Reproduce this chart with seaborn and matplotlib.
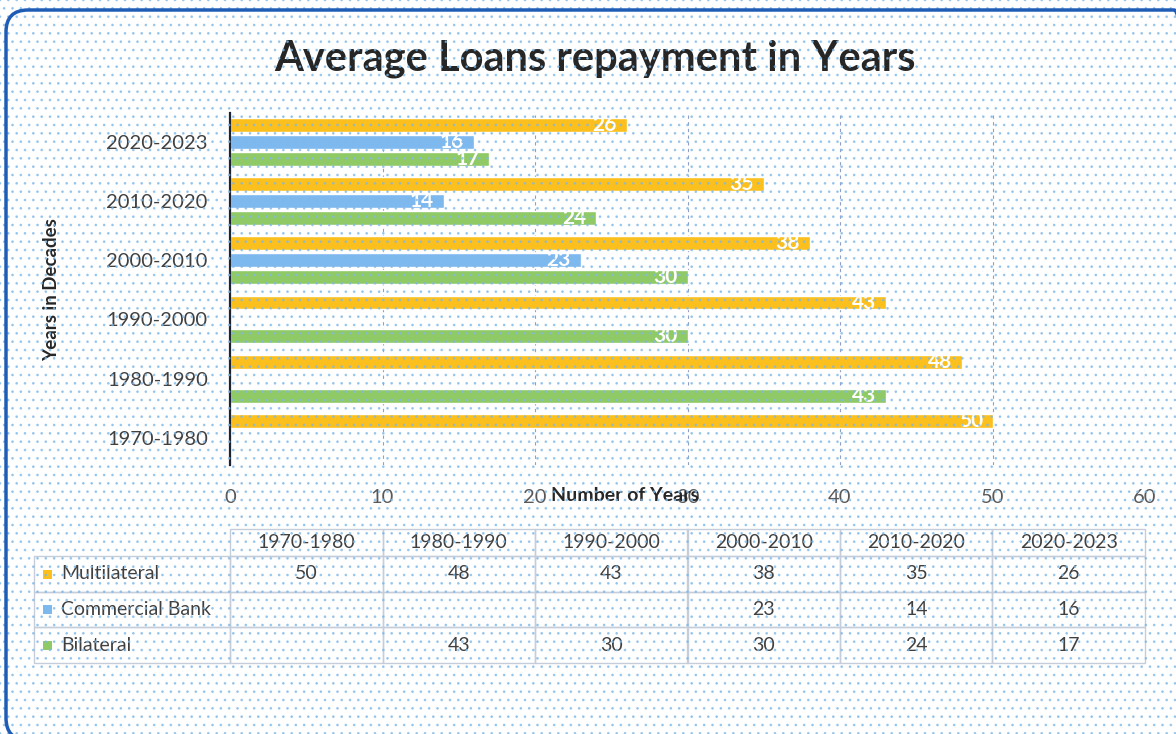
import numpy as np
import pandas as pd
import seaborn as sns
import matplotlib.pyplot as plt
from matplotlib.patches import Rectangle, FancyBboxPatch
from matplotlib.transforms import IdentityTransform

# ---- data -------------------------------------------------------------
decades = ['1970-1980', '1980-1990', '1990-2000', '2000-2010', '2010-2020', '2020-2023']
series = ['Multilateral', 'Commercial Bank', 'Bilateral']
multilateral = [50, 48, 43, 38, 35, 26]
commercial_bank = [np.nan, np.nan, np.nan, 23, 14, 16]
bilateral = [np.nan, 43, 30, 30, 24, 17]
colors = ['#FBBF1E', '#7DB8EE', '#8FCA66']

values = [multilateral, commercial_bank, bilateral]
df = pd.DataFrame({
    'Decade': decades * len(series),
    'Lender': np.repeat(series, len(decades)),
    'Years': multilateral + commercial_bank + bilateral,
})

# ---- style ------------------------------------------------------------
sns.set_style('white')
plt.rcParams['font.family'] = ['Lato', 'DejaVu Sans']
plt.rcParams['hatch.linewidth'] = 0.7
dot_color = '#7FB8E6'
plt.rcParams['hatch.color'] = dot_color

W, H = 1176, 734
fig = plt.figure(figsize=(W / 100, H / 100), dpi=100, facecolor='white')
ax = fig.add_axes([230 / W, 269 / H, 915 / W, 352 / H])
ax.set_facecolor('none')

sns.barplot(data=df, y='Decade', x='Years', hue='Lender',
            order=decades[::-1], hue_order=series, palette=colors,
            orient='h', width=0.86, gap=0.18, saturation=1,
            errorbar=None, legend=False, ax=ax)

# value labels inside the bar ends
for container in ax.containers:
    for bar in container:
        w = bar.get_width()
        if not np.isfinite(w) or w <= 0:
            continue
        ax.annotate(f'{w:g}', xy=(w, bar.get_y() + bar.get_height() / 2),
                    xytext=(-7, 0), textcoords='offset points',
                    ha='right', va='center', color='white',
                    fontsize=15, fontweight='bold')

ax.set_xlim(0, 60)
ax.set_ylim(5.46, -0.49)
ax.set_xticks(range(0, 61, 10))
ax.grid(axis='x', color='#8FA0C6', lw=0.8, ls=(0, (3, 3)))
ax.grid(axis='y', visible=False)
ax.set_axisbelow(True)
for s in ['top', 'right', 'bottom']:
    ax.spines[s].set_visible(False)
ax.spines['left'].set_color('#1C2333')
ax.spines['left'].set_linewidth(1.6)

ax.tick_params(axis='x', length=0, pad=17, labelsize=14.5, labelcolor='#595959')
ax.tick_params(axis='y', length=0, pad=16, labelsize=14.5, labelcolor='#404040')

ax.set_xlabel('Number of Years', fontweight='bold', fontsize=14, color='#262626')
ax.xaxis.set_label_coords((625 - 230) / 915, -(487 - 465) / 352)
ax.set_ylabel('Years in Decades', fontweight='bold', fontsize=13.5, color='#262626')
ax.yaxis.set_label_coords(-0.186, 0.497)

# ---- data table under the chart --------------------------------------
cell_text = [[name] + ['' if np.isnan(v) else f'{v:g}' for v in vals]
             for name, vals in zip(series, values)]
tbl = ax.table(cellText=cell_text, colLabels=[''] + decades,
               colWidths=[196 / 915] + [152.5 / 915] * len(decades),
               cellLoc='center',
               bbox=[(34 - 230) / 915, (465 - 663) / 352,
                     (1145 - 34) / 915, (663 - 529) / 352])
tbl.auto_set_font_size(False)
tbl.set_fontsize(14)
for (r, c), cell in tbl.get_celld().items():
    cell.set_edgecolor('#C5CCDA')
    cell.set_facecolor('none')
    cell.set_linewidth(1)
    cell.get_text().set_color('#404040')
    cell.set_height(27 / 352 if r == 0 else 35.7 / 352)
    if c == 0:
        cell.get_text().set_horizontalalignment('left')
        cell.PAD = 0.14
        if r == 0:
            cell.set_edgecolor('none')
            cell.set_linewidth(0)

# legend keys in the table's row headers
row_centers = [574, 609.5, 645]
for yc, col in zip(row_centers, colors):
    fig.add_artist(Rectangle((43, H - yc - 4.5), 9, 9, transform=IdentityTransform(),
                             facecolor=col, edgecolor='none', zorder=5))

# ---- title ------------------------------------------------------------
fig.text(595 / W, 1 - 70 / H, 'Average Loans repayment in Years',
         ha='center', va='baseline', fontsize=30, fontweight='bold', color='#262626')

# dotted background texture and rounded frame
fig.add_artist(Rectangle((0, 0), 1, 1, transform=fig.transFigure, facecolor='none',
                         edgecolor=dot_color, hatch='..', lw=0, alpha=0.7, zorder=50))
fig.add_artist(FancyBboxPatch((6, -6), 1190, 730,
                              boxstyle='round,pad=0,rounding_size=22',
                              transform=IdentityTransform(), fill=False,
                              edgecolor='#1F5CB5', lw=2.5, zorder=60))

fig.savefig('out.png', dpi=100)
